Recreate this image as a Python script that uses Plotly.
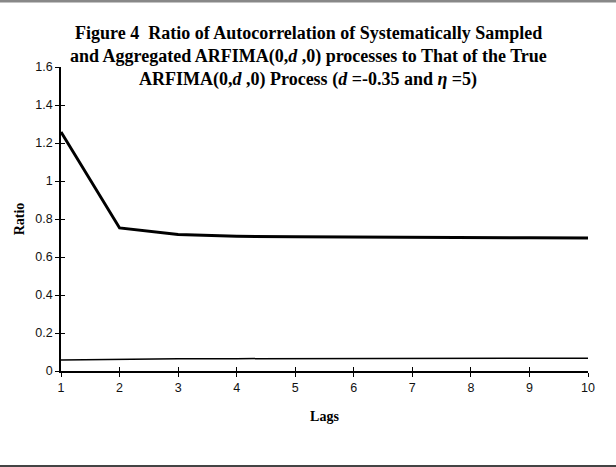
import plotly.graph_objects as go

lags = [1, 2, 3, 4, 5, 6, 7, 8, 9, 10]
ratio_thick = [1.258, 0.753, 0.718, 0.709, 0.706, 0.704, 0.703, 0.702, 0.701, 0.700]
ratio_thin = [0.058, 0.062, 0.064, 0.065, 0.066, 0.066, 0.066, 0.067, 0.067, 0.067]
y_ticks = [0, 0.2, 0.4, 0.6, 0.8, 1.0, 1.2, 1.4, 1.6]
y_tick_labels = ["0", "0.2", "0.4", "0.6", "0.8", "1", "1.2", "1.4", "1.6"]

title_lines = [
    "Figure 4  Ratio of Autocorrelation of Systematically Sampled",
    "and Aggregated ARFIMA(0,<i>d</i> ,0) processes to That of the True",
    "ARFIMA(0,<i>d</i> ,0) Process (<i>d</i> =-0.35 and <i>η</i> =5)",
]

W, H = 616, 467
L, R, T, B = 61, 28, 67, 96
ph = H - T - B
pw = W - L - R


def py(p):
    return (H - B - p) / ph


def px(p):
    return (p - L) / pw


fig = go.Figure()
fig.add_trace(go.Scatter(x=lags, y=ratio_thick, mode="lines", name="Series 1",
                         line=dict(color="black", width=3)))
fig.add_trace(go.Scatter(x=lags, y=ratio_thin, mode="lines", name="Series 2",
                         line=dict(color="black", width=1.5)))
# invisible trace to activate overlay axes for crossing ticks
fig.add_trace(go.Scatter(x=[lags[0]], y=[y_ticks[0]], mode="markers", xaxis="x2", yaxis="y2",
                         marker=dict(opacity=0), showlegend=False, hoverinfo="skip"))

tickfont = dict(family="Liberation Sans, Arial, sans-serif", size=12.5, color="#111111")
axtitlefont = dict(family="Liberation Serif, Times New Roman, serif", size=14, color="black")

fig.update_layout(
    width=W, height=H,
    margin=dict(l=L, r=R, t=T, b=B),
    paper_bgcolor="white", plot_bgcolor="white",
    showlegend=False,
    xaxis=dict(range=[1, 10], tickmode="array", tickvals=lags, ticks="outside", ticklen=4,
               tickwidth=1.2, tickcolor="black", showline=True, linecolor="black", linewidth=1.5,
               showgrid=False, zeroline=False, tickfont=tickfont,
               title=dict(text="<b>Lags</b>", font=axtitlefont, standoff=17)),
    yaxis=dict(range=[0, 1.6], tickmode="array", tickvals=y_ticks, ticktext=y_tick_labels,
               ticks="outside", ticklen=4, tickwidth=1.2, tickcolor="black", showline=True,
               linecolor="black", linewidth=1.5, showgrid=False, zeroline=False, tickfont=tickfont,
               title=dict(text="<b>Ratio</b>", font=axtitlefont, standoff=7)),
    xaxis2=dict(range=[1, 10], overlaying="x", tickmode="array", tickvals=lags, ticks="inside",
                ticklen=4, tickwidth=1.2, tickcolor="black", showticklabels=False, showgrid=False,
                zeroline=False, showline=False),
    yaxis2=dict(range=[0, 1.6], overlaying="y", tickmode="array", tickvals=y_ticks, ticks="inside",
                ticklen=4, tickwidth=1.2, tickcolor="black", showticklabels=False, showgrid=False,
                zeroline=False, showline=False),
)

title_y_px = [33, 56, 79]
for line, yp in zip(title_lines, title_y_px):
    fig.add_annotation(text="<b>" + line + "</b>", xref="paper", yref="paper",
                       x=px(W / 2), y=py(yp), xanchor="center", yanchor="middle",
                       showarrow=False,
                       font=dict(family="Liberation Serif, Times New Roman, serif", size=18,
                                 color="black"))

# frame lines
fig.add_shape(type="line", xref="paper", yref="paper", x0=px(0), x1=px(W), y0=py(1), y1=py(1),
              line=dict(color="#888888", width=3))
fig.add_shape(type="line", xref="paper", yref="paper", x0=px(0), x1=px(W), y0=py(466), y1=py(466),
              line=dict(color="#444444", width=2))

fig.write_html("out.html")
